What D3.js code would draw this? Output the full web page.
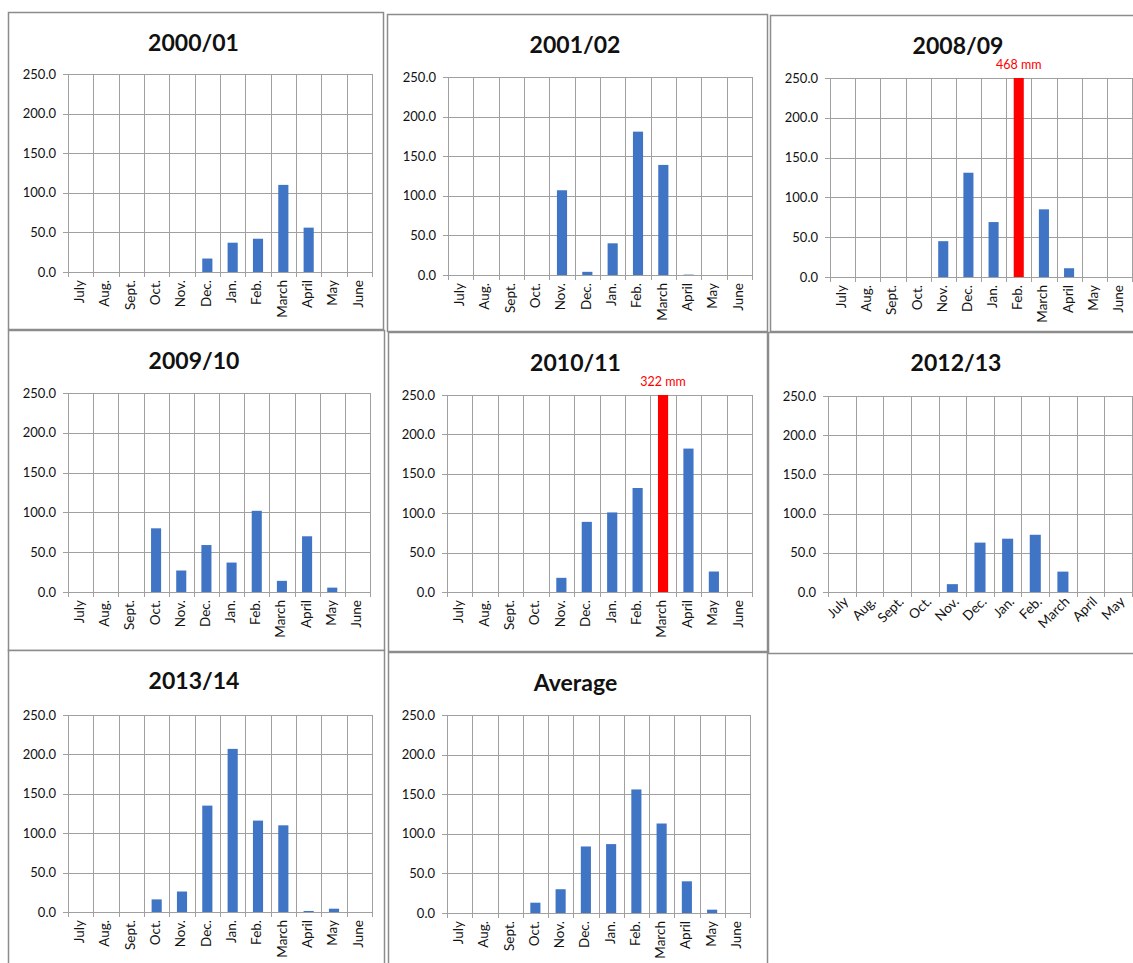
<!DOCTYPE html>
<html><head><meta charset="utf-8">
<script src="https://cdn.jsdelivr.net/npm/d3@7"></script>
<style>
html,body{margin:0;padding:0;background:#fff;}
svg{display:block;}
text{font-family:Lato,"Open Sans",sans-serif;}
</style></head>
<body><svg id="c" width="1133" height="963"></svg>
<script>
// ---- data ----
const months = ["July","Aug.","Sept.","Oct.","Nov.","Dec.","Jan.","Feb.","March","April","May","June"];
const months1213 = ["July","Aug.","Sept.","Oct.","Nov.","Dec.","Jan.","Feb.","March","April","May"];
const yTicks = [0,50,100,150,200,250];
const titles = ["2000/01","2001/02","2008/09","2009/10","2010/11","2012/13","2013/14","Average"];
const v2000 = [0,0,0,0,0,17,37,42,110,56,0,0];
const v2001 = [0,0,0,0,107,4,40,181,139,0.5,0,0];
const v2008 = [0,0,0,0,45,131,69,468,85,11,0,0];
const v2009 = [0,0,0,80,27,59,37,102,14,70,5.5,0];
const v2010 = [0,0,0,0,18,89,101,132,322,182,26,0];
const v2012 = [0,0,0,0,10,63,68,73,26,0,0];
const v2013 = [0,0,0,16,26,135,207,116,110,1.3,4.2,0];
const vAvg  = [0,0,0,13,30,84,87,156,113,40,4.2,0];
const extremeLabels = ["","","468 mm","","322 mm","","",""];
const seriesList = [v2000,v2001,v2008,v2009,v2010,v2012,v2013,vAvg];
const catList = [months,months,months,months,months,months1213,months,months];
const labelAngle = [-90,-90,-90,-90,-90,-45,-90,-90];

// ---- layout ----
const layout = [
  {bx:8,by:12,bw:375,bh:317, l:68,r:372,t:74,b:272},
  {bx:387,by:14,bw:380,bh:317, l:448,r:752,t:77,b:275},
  {bx:770,by:15,bw:380,bh:316, l:830,r:1132,t:78,b:277},
  {bx:8,by:330,bw:376,bh:320, l:68,r:370,t:393,b:592},
  {bx:388,by:332,bw:379,bh:319, l:447,r:752,t:395,b:592},
  {bx:768,by:332,bw:380,bh:321, l:828,r:1132,t:396,b:592},
  {bx:8,by:650,bw:376,bh:330, l:68,r:372,t:715,b:912},
  {bx:388,by:652,bw:379,bh:330, l:447,r:750,t:715,b:913}
];
const blue = "#4074c4", red = "#ff0000", grid = "#a0a0a0";

const svg = d3.select("#c");
titles.forEach((title,i)=>{
  const L = layout[i], vals = seriesList[i], cats = catList[i];
  const g = svg.append("g");
  g.append("rect").attr("x",L.bx+0.5).attr("y",L.by+0.5).attr("width",L.bw).attr("height",L.bh)
    .attr("fill","#fff").attr("stroke","#8c8c8c").attr("stroke-width",1.5);
  g.append("text").attr("x",L.bx+L.bw/2-2).attr("y",L.by+39).attr("text-anchor","middle")
    .attr("font-size",23).attr("font-weight","bold").attr("fill","#111").text(title);

  const x = d3.scaleBand().domain(cats).range([L.l,L.r]).paddingInner(0.6).paddingOuter(0.3);
  const xb = d3.scaleLinear().domain([0,cats.length]).range([L.l,L.r]);
  const y = d3.scaleLinear().domain([0,250]).range([L.b,L.t]);

  // horizontal grid + y axis
  const ya = d3.axisLeft(y).tickValues(yTicks).tickFormat(d3.format(".1f")).tickSize(0).tickPadding(0);
  const yg = g.append("g").attr("transform",`translate(${L.l},0)`).call(ya);
  yg.select(".domain").remove();
  yg.selectAll("text").attr("font-size",13).attr("fill","#111").attr("x",-12).attr("font-family","Lato,sans-serif");
  g.append("g").selectAll("line").data(yTicks).join("line")
    .attr("x1",L.l-5).attr("x2",L.r).attr("y1",d=>Math.round(y(d))+0.5).attr("y2",d=>Math.round(y(d))+0.5)
    .attr("stroke",grid).attr("stroke-width",1);
  // vertical grid at category boundaries
  g.append("g").selectAll("line").data(d3.range(cats.length+1)).join("line")
    .attr("x1",d=>Math.round(xb(d))+0.5).attr("x2",d=>Math.round(xb(d))+0.5)
    .attr("y1",L.t).attr("y2",L.b+5).attr("stroke",grid).attr("stroke-width",1);

  // bars
  g.append("g").selectAll("rect").data(vals.map((v,k)=>({c:cats[k],v:v}))).join("rect")
    .attr("x",d=>x(d.c)).attr("width",x.bandwidth())
    .attr("y",d=>y(Math.min(d.v,250))).attr("height",d=>L.b-y(Math.min(d.v,250)))
    .attr("fill",d=>d.v>250?red:blue);

  // x axis labels
  const xa = d3.axisBottom(x).tickSize(0).tickPadding(0);
  const xg = g.append("g").attr("transform",`translate(0,${L.b})`).call(xa);
  xg.select(".domain").remove();
  const ang = labelAngle[i];
  xg.selectAll("text").attr("font-size",13.5).attr("fill","#111").attr("font-family","Lato,sans-serif")
    .attr("text-anchor","end").attr("dy",null).attr("y",null)
    .attr("transform", ang===-90 ? "translate(0,8) rotate(-90)" : "translate(5,8) rotate(-45)")
    .attr("dominant-baseline","middle");

  if(extremeLabels[i]){
    const k = vals.findIndex(v=>v>250);
    g.append("text").attr("x",x(cats[k])+x.bandwidth()/2).attr("y",L.t-9).attr("text-anchor","middle")
      .attr("font-size",12.5).attr("fill",red).text(extremeLabels[i]);
  }
});
</script></body></html>
